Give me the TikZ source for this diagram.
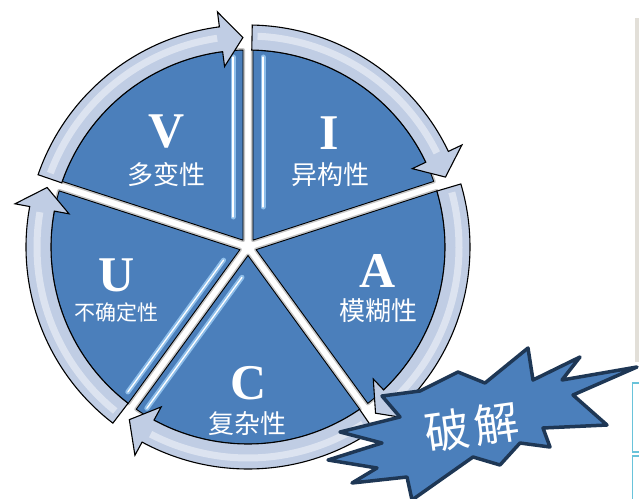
\documentclass[tikz,border=0pt]{standalone}
\usepackage{fontspec}
\newfontfamily\cjk{Noto Sans CJK SC}
\newfontfamily\lettr{Liberation Serif}
\definecolor{secblue}{RGB}{75,127,187}
\definecolor{ringblue}{RGB}{192,205,228}
\definecolor{bevelblue}{RGB}{165,212,250}
\definecolor{burstline}{RGB}{30,55,85}
\definecolor{stripgray}{RGB}{226,223,216}
\definecolor{boxcyan}{RGB}{105,195,218}
\begin{document}
\begin{tikzpicture}[x=1pt,y=1pt,
  sectorshade/.style={draw=gray!45, line width=4pt, line join=round},
  sectorfill/.style={fill=secblue, draw=black, line width=0.9pt, line join=round},
  ringarrow/.style={fill=ringblue, draw=black, line width=1.1pt, line join=miter},
  ringglow/.style={draw=white, line width=7pt, opacity=0.45},
  bevel/.style={draw=bevelblue, line width=5pt, opacity=0.75, line cap=round},
  bevelcore/.style={draw=white, line width=1.3pt, line cap=round},
  letterlbl/.style={text=white, inner sep=0pt, font=\lettr\bfseries\fontsize{50}{50}\selectfont},
  wordlbl/.style={text=white, inner sep=0pt, font=\cjk\fontsize{26}{26}\selectfont},
  burst/.style={fill=secblue, draw=burstline, line width=3.5pt, line join=round},
  cyanbox/.style={draw=boxcyan, line width=1.2pt},
]
\useasboundingbox (-248,-251) rectangle (391,247);

% side panel pieces
\fill[stripgray] (387,229) rectangle (392,-115);
\draw[cyanbox] (384.6,-136) rectangle (402,-205);
\draw[cyanbox] (384.6,-209) rectangle (402,-265);

% five pie sectors with white gaps
\foreach \a/\b in {18/90, -54/18, -126/-54, 162/234, 90/162} {
  \path[sectorshade] ({(\a+\b)/2}:8.5) -- ({\a+1.45}:197)
    arc[start angle={\a+1.45}, end angle={\b-1.45}, radius=197] -- cycle;
}
\foreach \a/\b in {18/90, -54/18, -126/-54, 162/234, 90/162} {
  \path[sectorfill] ({(\a+\b)/2}:8.5) -- ({\a+1.45}:197)
    arc[start angle={\a+1.45}, end angle={\b-1.45}, radius=197] -- cycle;
}

% bevel highlights along two gaps
\draw[bevel] (-15,30) -- (-15,190);
\draw[bevelcore] (-15,30) -- (-15,190);
\draw[bevel] (15,40) -- (15,190);
\draw[bevelcore] (15,40) -- (15,190);
\draw[bevel] (-24.4,-13.1) -- (-120.2,-145);
\draw[bevelcore] (-24.4,-13.1) -- (-120.2,-145);
\draw[bevel] (-6,-30.3) -- (-101.2,-161.3);
\draw[bevelcore] (-6,-30.3) -- (-101.2,-161.3);

% curved arrows around the circle (clockwise)
\foreach \s/\t in {161/91.4, 88.9/19.5, 16.5/-52.5, -55.5/-124.5, 232.5/163.5} {
  \pgfmathsetmacro\h{\t+6}
  \draw[ringarrow] (\s:222) arc[start angle=\s, end angle=\h, radius=222]
    -- (\h:237) -- (\t:209.5) -- (\h:182) -- (\h:197)
    arc[start angle=\h, end angle=\s, radius=197] -- cycle;
  \draw[ringglow] ({\s-1.5}:211) arc[start angle={\s-1.5}, end angle={\h+1}, radius=211];
}

% sector labels
\node[letterlbl] (lv) at (-81,115) {V};
\node[wordlbl]   (wv) at (-81,72) {多变性};
\node[letterlbl] (li) at (81,114) {I};
\node[wordlbl]   (wi) at (82,72) {异构性};
\node[letterlbl] (la) at (130,-24) {A};
\node[wordlbl]   (wa) at (130,-64) {模糊性};
\node[letterlbl] (lu) at (-131,-28) {U};
\node[wordlbl, font=\cjk\fontsize{21}{21}\selectfont] (wu) at (-131,-65) {不确定性};
\node[letterlbl] (lc) at (1,-136) {C};
\node[wordlbl]   (wc) at (0,-177) {复杂性};

% starburst callout
\draw[burst] (134,-149) -- (172,-144) -- (210,-125) -- (237,-136) -- (280,-101)
  -- (285,-133) -- (332,-110) -- (314,-133) -- (389,-120) -- (325,-148)
  -- (359,-178) -- (295,-181) -- (302,-200) -- (272,-196) -- (252,-218)
  -- (225,-210) -- (164,-253) -- (159,-230) -- (104,-236) -- (129,-221)
  -- (80,-213) -- (134,-196) -- (92,-185) -- (152,-170) -- cycle;
\node[text=white, inner sep=0pt, rotate=8,
  font=\cjk\fontsize{45}{45}\selectfont] (crack) at (224,-180) {破\kern4pt解};
\end{tikzpicture}
\end{document}
